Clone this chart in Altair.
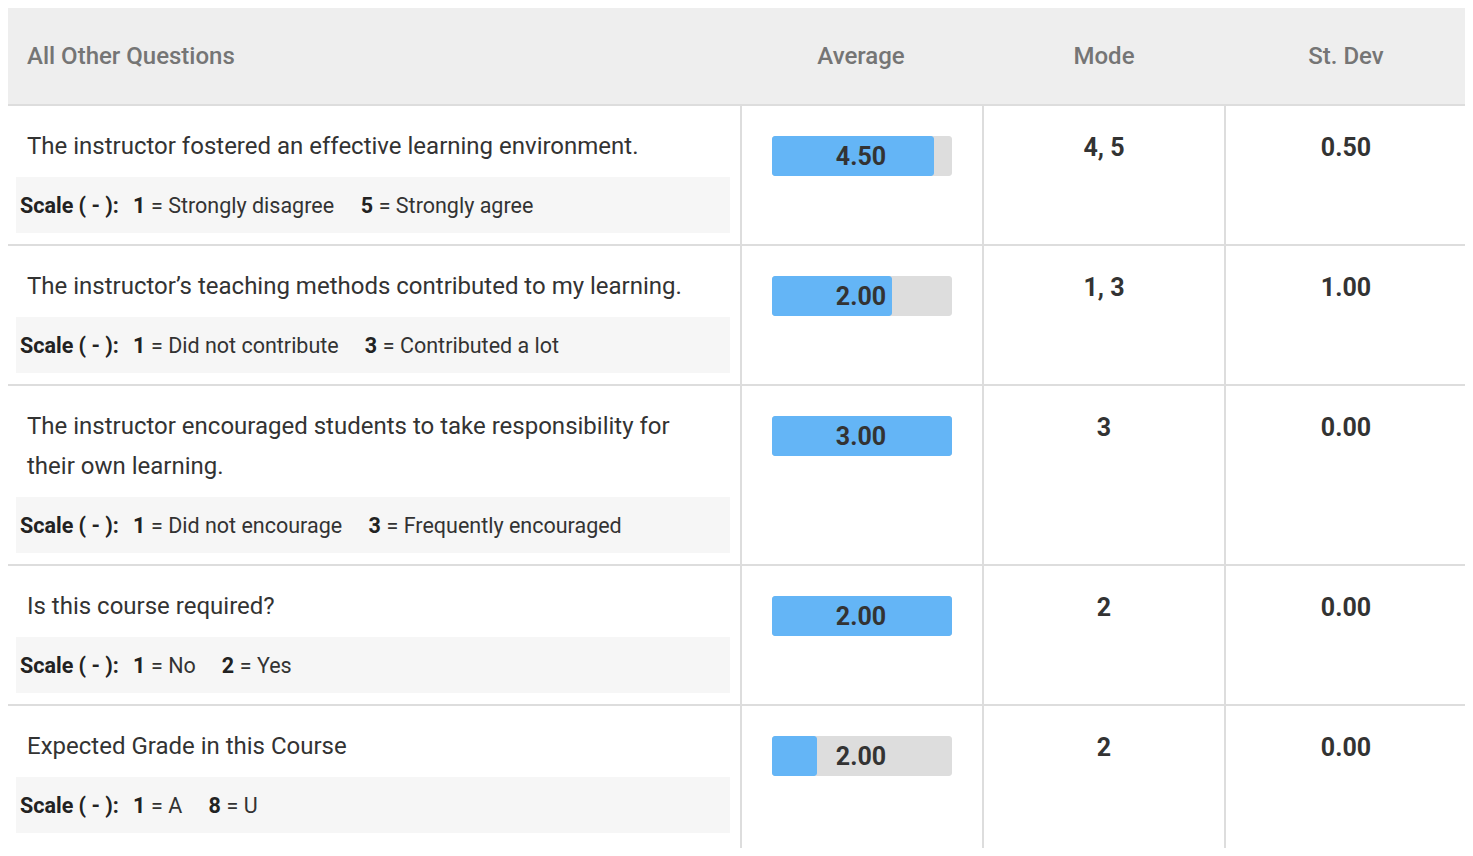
import altair as alt
import pandas as pd

# ---------------- data ----------------
columns = ["All Other Questions", "Average", "Mode", "St. Dev"]
questions = [
    ["The instructor fostered an effective learning environment."],
    ["The instructor\u2019s teaching methods contributed to my learning."],
    ["The instructor encouraged students to take responsibility for", "their own learning."],
    ["Is this course required?"],
    ["Expected Grade in this Course"],
]
scale_low = [1, 1, 1, 1, 1]
scale_low_labels = ["Strongly disagree", "Did not contribute", "Did not encourage", "No", "A"]
scale_high = [5, 3, 3, 2, 8]
scale_high_labels = ["Strongly agree", "Contributed a lot", "Frequently encouraged", "Yes", "U"]
averages = [4.50, 2.00, 3.00, 2.00, 2.00]
modes = ["4, 5", "1, 3", "3", "2", "2"]
st_devs = [0.50, 1.00, 0.00, 0.00, 0.00]

# ---------------- layout ----------------
W, H = 1457, 840
X0, Y0 = 8, 8
FONT = "Roboto"
TXT = "#333333"
HEAD_TXT = "#757575"
LINE = "#dddddd"
HEAD_BG = "#eeeeee"
BAND_BG = "#f6f6f6"
BAR = "#64b5f6"
TRACK = "#dddddd"

col_lines = [741, 983, 1225]
col_centers = [861, 1104, 1346]
header_bottom = 105
bar_x0, bar_w = 772, 180

ADV = {' ': 507, '=': 1100, 'a': 1089, 'b': 1122, 'c': 1046, 'd': 1126, 'e': 1057, 'f': 693,
       'g': 1120, 'h': 1101, 'i': 486, 'j': 477, 'k': 1014, 'l': 486, 'm': 1751, 'n': 1103,
       'o': 1141, 'p': 1122, 'q': 1126, 'r': 677, 's': 1031, 't': 655, 'u': 1100, 'v': 968,
       'w': 1502, 'x': 991, 'y': 946, 'z': 991, 'A': 1336, 'D': 1314, 'N': 1424, 'U': 1296,
       'S': 1218, 'Y': 1229, 'C': 1302, 'F': 1130}


def text_w(s, size):
    return sum(ADV.get(c, 1100) for c in s) / 2048 * size


rects, bars, rules = [], [], []
t_head_left, t_head_center, t_q, t_bold, t_norm, t_num = [], [], [], [], [], []

rects.append(dict(x=X0, x2=X0 + W, y=Y0, y2=header_bottom - 1, c=HEAD_BG))
t_head_left.append(dict(x=27, y=57, t=columns[0]))
for cx, name in zip(col_centers, columns[1:]):
    t_head_center.append(dict(x=cx, y=57, t=name))
rules.append(dict(x=X0, x2=X0 + W, y=header_bottom, y2=header_bottom))
for lx in col_lines:
    rules.append(dict(x=lx, x2=lx, y=header_bottom, y2=Y0 + H))

top = header_bottom
for i, q in enumerate(questions):
    extra = 40 * (len(q) - 1)
    row_h = 140 + extra
    if i > 0:
        rules.append(dict(x=X0, x2=X0 + W, y=top, y2=top))
    for j, line in enumerate(q):
        t_q.append(dict(x=27, y=top + 41.5 + 40 * j, t=line))
    band_top = top + 72 + extra
    rects.append(dict(x=16, x2=730, y=band_top, y2=band_top + 56, c=BAND_BG))
    ty = band_top + 29.5
    t_bold.append(dict(x=20, y=ty, t="Scale ( - ):"))
    t_bold.append(dict(x=133, y=ty, t=str(scale_low[i])))
    lab1 = "= " + scale_low_labels[i]
    t_norm.append(dict(x=151, y=ty, t=lab1))
    x2n = 151 + text_w(lab1, 22) + 26
    t_bold.append(dict(x=x2n, y=ty, t=str(scale_high[i])))
    t_norm.append(dict(x=x2n + 18, y=ty, t="= " + scale_high_labels[i]))
    # average bar
    by = top + 31
    bars.append(dict(x=bar_x0, x2=bar_x0 + bar_w, y=by, y2=by + 40, c=TRACK))
    bars.append(dict(x=bar_x0, x2=bar_x0 + bar_w * averages[i] / scale_high[i], y=by, y2=by + 40, c=BAR))
    t_num.append(dict(x=col_centers[0], y=top + 51.5, t=f"{averages[i]:.2f}"))
    t_num.append(dict(x=col_centers[1], y=top + 42.5, t=modes[i]))
    t_num.append(dict(x=col_centers[2], y=top + 42.5, t=f"{st_devs[i]:.2f}"))
    top += row_h

xs = alt.Scale(domain=[X0, X0 + W], nice=False, zero=False)
ys = alt.Scale(domain=[Y0, Y0 + H], nice=False, zero=False, reverse=True)


def X(f="x"):
    return alt.X(f"{f}:Q", scale=xs, axis=None)


def Y(f="y"):
    return alt.Y(f"{f}:Q", scale=ys, axis=None)


rect_layer = alt.Chart(pd.DataFrame(rects)).mark_rect().encode(
    x=X(), x2="x2", y=Y(), y2="y2", color=alt.Color("c:N", scale=None))
bar_layer = alt.Chart(pd.DataFrame(bars)).mark_rect(cornerRadius=3).encode(
    x=X(), x2="x2", y=Y(), y2="y2", color=alt.Color("c:N", scale=None))
rule_layer = alt.Chart(pd.DataFrame(rules)).mark_rule(color=LINE, strokeWidth=2).encode(
    x=X(), x2="x2", y=Y(), y2="y2")


def text_layer(rows, **kw):
    return alt.Chart(pd.DataFrame(rows)).mark_text(font=FONT, baseline="middle", **kw).encode(
        x=X(), y=Y(), text="t:N")


layers = [
    rect_layer, bar_layer, rule_layer,
    text_layer(t_head_left, align="left", fontSize=24, fontWeight=500, color=HEAD_TXT),
    text_layer(t_head_center, align="center", fontSize=24, fontWeight=500, color=HEAD_TXT),
    text_layer(t_q, align="left", fontSize=24, color=TXT),
    text_layer(t_bold, align="left", fontSize=21.5, fontWeight="bold", color="#222222"),
    text_layer(t_norm, align="left", fontSize=21.5, color=TXT),
    text_layer(t_num, align="center", fontSize=25, fontWeight="bold", color=TXT),
]

chart = alt.layer(*layers).properties(
    width=W, height=H, padding=0, autosize=alt.AutoSizeParams(type="none"),
    background="white",
).configure_view(stroke=None)

chart.save("out.html", embed_options={"renderer": "svg", "actions": False})
